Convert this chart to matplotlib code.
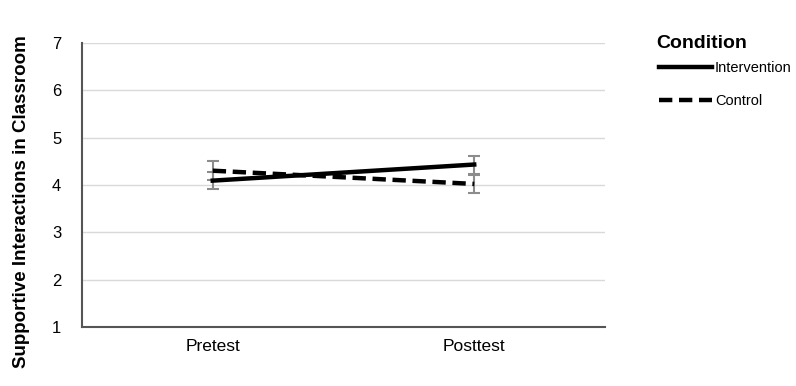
import matplotlib.pyplot as plt

plt.rcParams['font.family'] = ['Liberation Sans', 'DejaVu Sans']

times = ["Pretest", "Posttest"]
intervention = [4.09, 4.43]
intervention_err = [0.18, 0.19]
control = [4.30, 4.02]
control_err = [0.20, 0.19]

fig = plt.figure(figsize=(7.96, 3.86), dpi=100)
ax = fig.add_axes([0.103, 0.153, 0.657, 0.736])

x = [0, 1]
ax.errorbar(x, intervention, yerr=intervention_err, color="black", lw=3.2,
            ecolor="#8c8c8c", elinewidth=1.5, capsize=4, capthick=1.5,
            label="Intervention", zorder=3)
ax.errorbar(x, control, yerr=control_err, color="black", lw=3.2, ls=(0, (3, 1.5)),
            ecolor="#8c8c8c", elinewidth=1.5, capsize=4, capthick=1.5,
            label="Control", zorder=3)

ax.set_xlim(-0.5, 1.5)
ax.set_ylim(1, 7)
ax.set_yticks(range(1, 8))
ax.set_xticks(x)
ax.set_xticklabels(times, fontsize=12.5)
ax.tick_params(axis="y", labelsize=12, length=0, pad=15)
ax.tick_params(axis="x", length=0, pad=9)
ax.grid(axis="y", color="#d9d9d9", lw=1)
ax.set_axisbelow(True)
for s in ["top", "right"]:
    ax.spines[s].set_visible(False)
ax.spines["left"].set_color("#555555")
ax.spines["bottom"].set_color("#555555")
ax.spines["left"].set_linewidth(1.5)
ax.spines["bottom"].set_linewidth(1.5)

ax.set_ylabel("Supportive Interactions in Classroom", fontsize=13.5,
              fontweight="bold")
ax.yaxis.set_label_coords(-0.1, 0.44)

# legend title placed on its own, entries below
fig.text(0.825, 0.888, "Condition", fontsize=14, fontweight="bold",
         va="center", ha="left")
handles, labels = ax.get_legend_handles_labels()
handles = [h[0] for h in handles]
fig.legend(handles, labels, loc="upper left",
           bbox_to_anchor=(0.812, 0.876), frameon=False, fontsize=10.5,
           handlelength=3.6, handletextpad=0.2, labelspacing=1.3)

fig.savefig("out.png", dpi=100)
